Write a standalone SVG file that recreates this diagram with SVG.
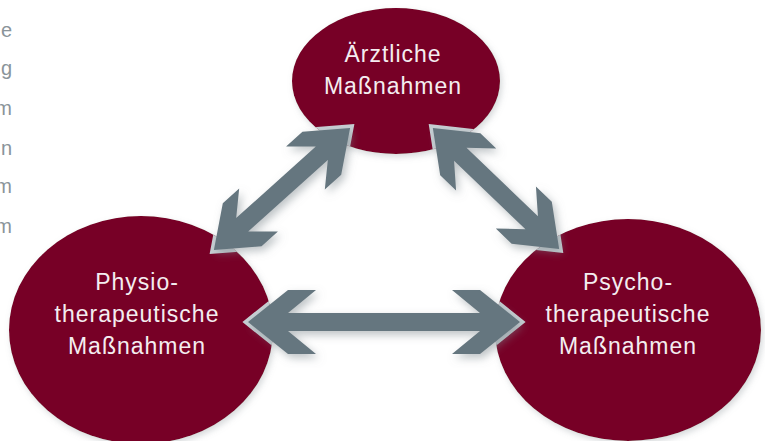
<svg xmlns="http://www.w3.org/2000/svg" width="765" height="441" viewBox="0 0 765 441">
  <defs>
    <filter id="eshadow" x="-10%" y="-10%" width="125%" height="125%">
      <feDropShadow dx="2" dy="3" stdDeviation="3" flood-color="#8a9398" flood-opacity="0.35"/>
    </filter>
    <filter id="ashadow" x="-20%" y="-20%" width="150%" height="150%">
      <feDropShadow dx="3" dy="4" stdDeviation="4" flood-color="#7d878d" flood-opacity="0.5"/>
    </filter>
    <clipPath id="onNodes">
      <ellipse cx="396" cy="81" rx="104" ry="73"/>
      <ellipse cx="141" cy="330" rx="132" ry="114"/>
      <ellipse cx="628" cy="330" rx="133" ry="111"/>
    </clipPath>
    <polygon id="arrowA" transform="translate(282,189) rotate(-41.9)"
      points="-91.5,0 -53.5,-29 -31.5,-29 -53.5,-9 53.5,-9 31.5,-29 53.5,-29 91.5,0 53.5,29 31.5,29 53.5,9 -53.5,9 -31.5,29 -53.5,29"/>
    <polygon id="arrowB" transform="translate(496,188.5) rotate(43.8)"
      points="-87.5,0 -49.5,-29 -27.5,-29 -49.5,-9 49.5,-9 27.5,-29 49.5,-29 87.5,0 49.5,29 27.5,29 49.5,9 -49.5,9 -27.5,29 -49.5,29"/>
    <polygon id="arrowC" transform="translate(384,322)"
      points="-136,0 -96,-32 -68,-32 -96,-9 96,-9 68,-32 96,-32 136,0 96,32 68,32 96,9 -96,9 -68,32 -96,32"/>
  </defs>
  <style>
    .node { fill: #770027; filter: url(#eshadow); }
    .lbl { font-family: "Liberation Sans", Arial, sans-serif; font-size: 23px; fill: #f4edf0; text-anchor: middle; letter-spacing: 1px; }
    .halo { fill: #c6ced2; stroke: #c6ced2; stroke-width: 7; stroke-linejoin: miter; }
    .arrow { fill: #65767f; filter: url(#ashadow); }
    .side { font-family: "Liberation Sans", Arial, sans-serif; font-size: 20px; fill: #8a949a; text-anchor: end; }
  </style>
  <rect width="765" height="441" fill="#ffffff"/>

  <g id="margin-text">
    <text class="side" x="12" y="37">e</text>
    <text class="side" x="12" y="75">g</text>
    <text class="side" x="12" y="115">m</text>
    <text class="side" x="12" y="155">n</text>
    <text class="side" x="12" y="193">m</text>
    <text class="side" x="12" y="233">m</text>
  </g>

  <g id="node-aerztlich">
    <ellipse class="node" cx="396" cy="81" rx="104" ry="73"/>
    <text class="lbl" x="393" y="62">Ärztliche</text>
    <text class="lbl" x="393" y="93.5">Maßnahmen</text>
  </g>
  <g id="node-physio">
    <ellipse class="node" cx="141" cy="330" rx="132" ry="114"/>
    <text class="lbl" x="137" y="290">Physio-</text>
    <text class="lbl" x="137" y="322">therapeutische</text>
    <text class="lbl" x="137" y="354">Maßnahmen</text>
  </g>
  <g id="node-psycho">
    <ellipse class="node" cx="628" cy="330" rx="133" ry="111"/>
    <text class="lbl" x="628" y="290">Psycho-</text>
    <text class="lbl" x="628" y="322">therapeutische</text>
    <text class="lbl" x="628" y="354">Maßnahmen</text>
  </g>

  <g id="connectors">
    <g clip-path="url(#onNodes)">
      <use href="#arrowA" class="halo"/>
      <use href="#arrowB" class="halo"/>
      <use href="#arrowC" class="halo"/>
    </g>
    <use href="#arrowA" class="arrow"/>
    <use href="#arrowB" class="arrow"/>
    <use href="#arrowC" class="arrow"/>
  </g>
</svg>
